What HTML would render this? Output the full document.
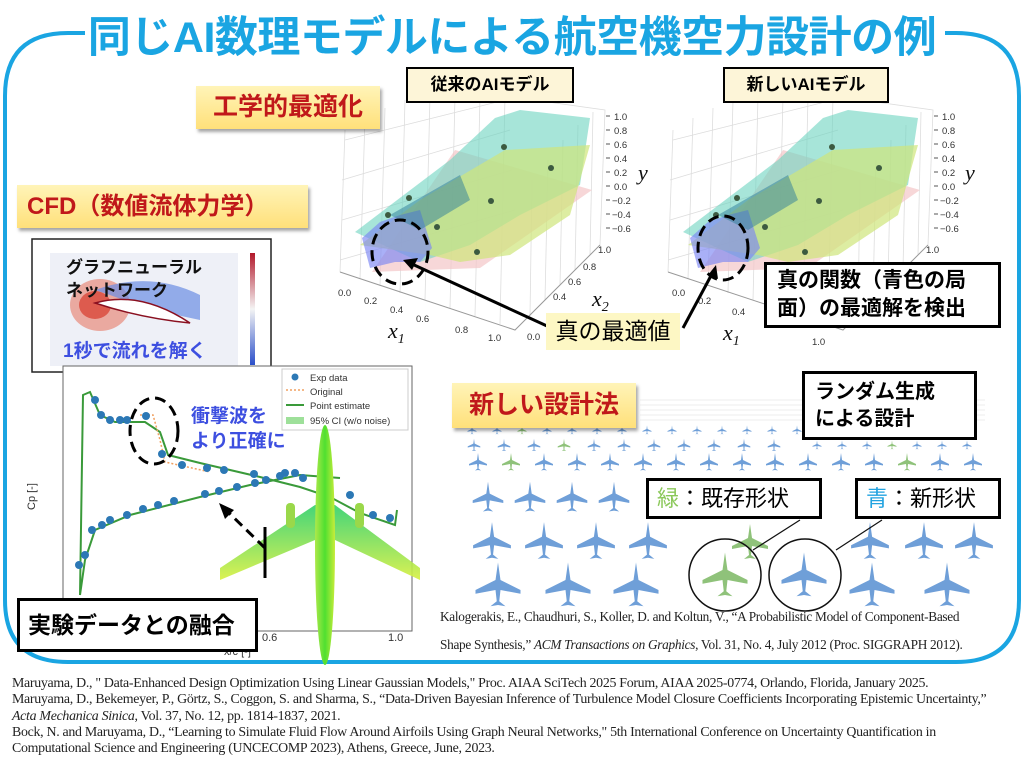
<!DOCTYPE html>
<html><head><meta charset="utf-8"><style>
body{margin:0;background:#fff;}
#c{position:relative;width:1024px;height:765px;overflow:hidden;font-family:"Liberation Sans","Noto Sans CJK JP",sans-serif;}
.a{position:absolute;}
.yb{background:linear-gradient(#fff4b8,#ffe07a);box-shadow:2px 3px 3px rgba(0,0,0,.35);color:#c0181a;font-weight:bold;white-space:nowrap;}
.bb{background:#fff;border:3px solid #000;color:#000;white-space:nowrap;font-weight:bold;}
.ref{font-family:"Liberation Serif",serif;font-size:13.9px;color:#222;line-height:16.3px;white-space:nowrap;letter-spacing:-0.3px;}
</style></head><body><div id="c">
<svg class="a" style="left:0;top:0" width="1024" height="765" viewBox="0 0 1024 765">
<defs>
<symbol id="pl" viewBox="-20 -20 40 40"><path d="M0,-18 L2,-4 L18,4 L18,7 L2,4 L1,13 L6,17 L0,16 L-6,17 L-1,13 L-2,4 L-18,7 L-18,4 L-2,-4 Z" fill="#6f9fd8"/></symbol>
<symbol id="pg" viewBox="-20 -20 40 40"><path d="M0,-18 L2,-4 L18,4 L18,7 L2,4 L1,13 L6,17 L0,16 L-6,17 L-1,13 L-2,4 L-18,7 L-18,4 L-2,-4 Z" fill="#8fc27a"/></symbol>
<linearGradient id="gr" x1="0" x2="1"><stop offset="0" stop-color="#aee84a"/><stop offset=".5" stop-color="#4fe030"/><stop offset="1" stop-color="#c9ec3a"/></linearGradient>
<linearGradient id="gw" x1="0" y1="0" x2="0" y2="1"><stop offset="0" stop-color="#2fd06a"/><stop offset="1" stop-color="#d8f040"/></linearGradient>
<linearGradient id="cb" x1="0" y1="0" x2="0" y2="1"><stop offset="0" stop-color="#b2182b"/><stop offset=".5" stop-color="#f4f4f4"/><stop offset="1" stop-color="#2a4ec9"/></linearGradient>
</defs>
<path d="M85,33 L68,33 Q5,33 5,96 L5,600 Q5,662 68,662 L956,662 Q1019,662 1019,600 L1019,96 Q1019,33 956,33 L945,33" fill="none" stroke="#1aa5e2" stroke-width="4"/>

<g id="p1">
 <g stroke="#ddd" stroke-width="0.8" fill="none">
  <path d="M340,272 L345,130 M360,279 L365,118 M380,286 L385,108 M400,293 L405,100 M425,300 L430,96 M450,308 L455,96 M475,316 L480,96 M500,324 L505,96"/>
  <path d="M515,330 L600,245 L605,110 L505,96 M345,140 L505,100 M342,180 L510,130 M342,220 L512,170 M340,260 L515,210"/>
  <path d="M530,316 L532,180 M545,300 L548,160 M560,285 L563,140 M575,270 L578,125 M590,255 L593,112"/>
 </g>
 <path d="M340,272 L515,330 L600,245" stroke="#999" fill="none"/>
 <path d="M372,272 L455,150 L592,190 L480,268 Z" fill="#f3c6c8" opacity=".7"/>
 <path d="M355,232 L450,160 L495,118 L520,110 L590,118 L580,185 L520,215 L470,245 L420,262 Z" fill="#6cd3c0" opacity=".6"/>
 <path d="M360,245 L420,200 L505,150 L590,145 L570,215 L510,255 L460,262 L430,255 Z" fill="#cfe67a" opacity=".7"/>
 <path d="M362,238 L380,222 L400,215 L420,210 L432,248 L420,262 L395,262 L370,268 Z" fill="#7b86f2" opacity=".65"/>
 <path d="M390,215 L460,175 L470,200 L420,230 Z" fill="#2d7d9a" opacity=".5"/>
 <g fill="#3c5a40"><circle cx="504" cy="147" r="3"/><circle cx="551" cy="168" r="3"/><circle cx="491" cy="201" r="3"/><circle cx="437" cy="227" r="3"/><circle cx="477" cy="252" r="3"/><circle cx="409" cy="198" r="3"/><circle cx="388" cy="215" r="3"/></g>
 <g stroke="#555" stroke-width="1"><path d="M606,116h4M606,130h4M606,144h4M606,158h4M606,172h4M606,186h4M606,200h4M606,214h4M606,228h4"/></g>
</g>
<use href="#p1" transform="translate(328,0)"/>
<g font-family="Liberation Sans,sans-serif" font-size="9.5" fill="#333">
 <text x="614" y="120">1.0</text><text x="614" y="134">0.8</text><text x="614" y="148">0.6</text><text x="614" y="162">0.4</text><text x="614" y="176">0.2</text><text x="614" y="190">0.0</text><text x="612" y="204">−0.2</text><text x="612" y="218">−0.4</text><text x="612" y="232">−0.6</text>
 <text x="338" y="296">0.0</text><text x="364" y="304">0.2</text><text x="390" y="313">0.4</text><text x="416" y="322">0.6</text><text x="455" y="333">0.8</text><text x="488" y="341">1.0</text>
 <text x="598" y="253">1.0</text><text x="583" y="270">0.8</text><text x="568" y="285">0.6</text><text x="553" y="300">0.4</text><text x="527" y="340">0.0</text>
 <text x="942" y="120">1.0</text><text x="942" y="134">0.8</text><text x="942" y="148">0.6</text><text x="942" y="162">0.4</text><text x="942" y="176">0.2</text><text x="942" y="190">0.0</text><text x="940" y="204">−0.2</text><text x="940" y="218">−0.4</text><text x="940" y="232">−0.6</text>
 <text x="672" y="296">0.0</text><text x="698" y="304">0.2</text><text x="732" y="315">0.4</text><text x="812" y="345">1.0</text><text x="926" y="253">1.0</text>
</g>
<g font-family="Liberation Serif,serif" font-style="italic" font-size="22" fill="#111">
 <text x="638" y="180">y</text><text x="965" y="180">y</text>
 <text x="388" y="338">x<tspan font-size="14" dy="5">1</tspan></text>
 <text x="723" y="340">x<tspan font-size="14" dy="5">1</tspan></text>
 <text x="592" y="306">x<tspan font-size="14" dy="5">2</tspan></text>
</g>
<ellipse cx="400" cy="252" rx="28" ry="32" fill="none" stroke="#000" stroke-width="3" stroke-dasharray="11,6"/>
<ellipse cx="723" cy="248" rx="25" ry="32" fill="none" stroke="#000" stroke-width="3" stroke-dasharray="11,6"/>
<line x1="547" y1="326" x2="412" y2="264" stroke="#000" stroke-width="3"/>
<path d="M403,260 L418,258 L412,270 Z" fill="#000"/>
<line x1="683" y1="328" x2="713" y2="272" stroke="#000" stroke-width="3"/>
<path d="M716,265 L718,279 L708,275 Z" fill="#000"/>

<rect x="32" y="239" width="239" height="133" fill="#fff" stroke="#222" stroke-width="1.5"/>
<rect x="50" y="253" width="188" height="113" fill="#eef0f7"/>
<ellipse cx="100" cy="305" rx="30" ry="26" fill="#e88a7a" opacity=".7"/>
<ellipse cx="95" cy="305" rx="16" ry="14" fill="#d9473a" opacity=".8"/>
<path d="M95,290 Q150,270 200,295 L200,320 Q150,310 110,295 Z" fill="#6b8de3" opacity=".7"/>
<path d="M95,303 Q140,290 190,323 Q140,318 95,303 Z" fill="#fff" stroke="#8a1020" stroke-width="1.5"/>
<rect x="250" y="253" width="5" height="112" fill="url(#cb)"/>

<rect x="63" y="366" width="349" height="265" fill="#fff" stroke="#666" stroke-width="1"/>
<rect x="282" y="369" width="126" height="61" fill="#fff" stroke="#ccc"/>
<circle cx="295" cy="377" r="3.5" fill="#2c78b5"/>
<path d="M286,390h18" stroke="#f0a060" stroke-dasharray="2,2" stroke-width="1.5"/>
<path d="M286,405h18" stroke="#3a9a3a" stroke-width="2"/>
<rect x="286" y="417" width="18" height="7" fill="#9ee09a"/>
<g font-size="9.5" fill="#333"><text x="310" y="381">Exp data</text><text x="310" y="395">Original</text><text x="310" y="409">Point estimate</text><text x="310" y="424">95% CI (w/o noise)</text></g>
<path d="M80,595 L83,395 L90,392 L100,415 L115,422 L145,422 L160,432 L168,455 L200,463 L260,477 L300,487 L330,497 L360,513 L395,525 L397,510 M80,595 L85,560 L95,530 L130,515 L200,497 L250,485 L300,475 L340,478" fill="none" stroke="#3a9a3a" stroke-width="2"/>
<path d="M140,415 L153,415 L160,440 L165,462 L210,472" fill="none" stroke="#f0a060" stroke-dasharray="2,2" stroke-width="1.5"/>
<g fill="#2c78b5"><circle cx="95" cy="400" r="4"/><circle cx="101" cy="415" r="4"/><circle cx="110" cy="420" r="4"/><circle cx="120" cy="420" r="4"/><circle cx="127" cy="420" r="4"/><circle cx="146" cy="416" r="4"/><circle cx="162" cy="454" r="4"/><circle cx="182" cy="465" r="4"/><circle cx="207" cy="468" r="4"/><circle cx="224" cy="470" r="4"/><circle cx="254" cy="474" r="4"/><circle cx="285" cy="473" r="4"/><circle cx="303" cy="478" r="4"/><circle cx="350" cy="495" r="4"/><circle cx="373" cy="515" r="4"/><circle cx="390" cy="518" r="4"/><circle cx="79" cy="565" r="4"/><circle cx="85" cy="555" r="4"/><circle cx="92" cy="530" r="4"/><circle cx="102" cy="525" r="4"/><circle cx="110" cy="520" r="4"/><circle cx="127" cy="515" r="4"/><circle cx="143" cy="509" r="4"/><circle cx="158" cy="505" r="4"/><circle cx="174" cy="501" r="4"/><circle cx="205" cy="494" r="4"/><circle cx="219" cy="491" r="4"/><circle cx="237" cy="487" r="4"/><circle cx="255" cy="483" r="4"/><circle cx="266" cy="480" r="4"/><circle cx="280" cy="476" r="4"/><circle cx="295" cy="473" r="4"/></g>
<g font-size="11" fill="#333"><text x="262" y="641">0.6</text><text x="388" y="641">1.0</text><text x="224" y="655">x/c [-]</text><text transform="translate(35,510) rotate(-90)">Cp [-]</text></g>
<ellipse cx="154" cy="431" rx="24" ry="33" fill="none" stroke="#000" stroke-width="3" stroke-dasharray="11,6"/>

<path d="M220,568 L315,505 L335,505 L420,568 L420,580 L335,540 L315,540 L220,580 Z" fill="url(#gw)" opacity=".9"/>
<rect x="286" y="503" width="9" height="25" rx="4" fill="#9ad84a"/><rect x="355" y="503" width="9" height="25" rx="4" fill="#9ad84a"/>
<ellipse cx="325" cy="545" rx="10" ry="120" fill="url(#gr)"/>
<path d="M265,548 L228,512" stroke="#000" stroke-width="3" stroke-dasharray="10,6"/>
<path d="M219,503 L234,510 L225,519 Z" fill="#000"/>
<path d="M265,527 L265,578" stroke="#000" stroke-width="3"/>

<g stroke="#dcdcdc" stroke-width=".6"><path d="M640,400h345M640,405h345M640,410h345M640,415h345M640,420h345"/></g>
<g>
<use href="#pl" x="465" y="425" width="14" height="10"/><use href="#pl" x="490" y="425" width="14" height="10"/><use href="#pg" x="515" y="425" width="14" height="10"/><use href="#pl" x="540" y="425" width="14" height="10"/><use href="#pl" x="565" y="425" width="14" height="10"/><use href="#pl" x="590" y="425" width="14" height="10"/><use href="#pl" x="615" y="425" width="14" height="10"/><use href="#pl" x="640" y="425" width="14" height="10"/><use href="#pl" x="665" y="425" width="14" height="10"/><use href="#pl" x="690" y="425" width="14" height="10"/><use href="#pl" x="715" y="425" width="14" height="10"/><use href="#pl" x="740" y="425" width="14" height="10"/><use href="#pl" x="765" y="425" width="14" height="10"/><use href="#pl" x="790" y="425" width="14" height="10"/>
<use href="#pl" x="810" y="440" width="14" height="10"/><use href="#pl" x="835" y="440" width="14" height="10"/><use href="#pl" x="860" y="440" width="14" height="10"/><use href="#pg" x="885" y="440" width="14" height="10"/><use href="#pl" x="910" y="440" width="14" height="10"/><use href="#pl" x="935" y="440" width="14" height="10"/><use href="#pl" x="960" y="440" width="14" height="10"/>
<use href="#pl" x="465" y="438" width="18" height="14"/><use href="#pl" x="495" y="438" width="18" height="14"/><use href="#pl" x="525" y="438" width="18" height="14"/><use href="#pg" x="555" y="438" width="18" height="14"/><use href="#pl" x="585" y="438" width="18" height="14"/><use href="#pl" x="615" y="438" width="18" height="14"/><use href="#pl" x="645" y="438" width="18" height="14"/><use href="#pl" x="675" y="438" width="18" height="14"/><use href="#pl" x="705" y="438" width="18" height="14"/><use href="#pl" x="735" y="438" width="18" height="14"/><use href="#pl" x="765" y="438" width="18" height="14"/>
<use href="#pl" x="465" y="452" width="26" height="20"/><use href="#pg" x="498" y="452" width="26" height="20"/><use href="#pl" x="531" y="452" width="26" height="20"/><use href="#pl" x="564" y="452" width="26" height="20"/><use href="#pl" x="597" y="452" width="26" height="20"/><use href="#pl" x="630" y="452" width="26" height="20"/><use href="#pl" x="663" y="452" width="26" height="20"/><use href="#pl" x="696" y="452" width="26" height="20"/><use href="#pl" x="729" y="452" width="26" height="20"/><use href="#pl" x="762" y="452" width="26" height="20"/><use href="#pl" x="795" y="452" width="26" height="20"/><use href="#pl" x="828" y="452" width="26" height="20"/><use href="#pl" x="861" y="452" width="26" height="20"/><use href="#pg" x="894" y="452" width="26" height="20"/><use href="#pl" x="927" y="452" width="26" height="20"/><use href="#pl" x="960" y="452" width="26" height="20"/>
<use href="#pl" x="468" y="480" width="40" height="34"/><use href="#pl" x="510" y="480" width="40" height="34"/><use href="#pl" x="552" y="480" width="40" height="34"/><use href="#pl" x="594" y="480" width="40" height="34"/><use href="#pl" x="920" y="480" width="40" height="34"/><use href="#pl" x="958" y="480" width="40" height="34"/>
<use href="#pl" x="468" y="520" width="48" height="42"/><use href="#pl" x="520" y="520" width="48" height="42"/><use href="#pl" x="572" y="520" width="48" height="42"/><use href="#pl" x="624" y="520" width="48" height="42"/><use href="#pg" x="725" y="522" width="50" height="40"/><use href="#pl" x="846" y="520" width="48" height="42"/><use href="#pl" x="900" y="520" width="48" height="42"/><use href="#pl" x="950" y="520" width="48" height="42"/>
<use href="#pl" x="468" y="560" width="60" height="50"/><use href="#pl" x="538" y="560" width="60" height="50"/><use href="#pl" x="606" y="560" width="60" height="50"/><use href="#pg" x="696" y="550" width="58" height="50"/><use href="#pl" x="775" y="550" width="58" height="50"/><use href="#pl" x="842" y="560" width="60" height="50"/><use href="#pl" x="915" y="560" width="64" height="50"/>
</g>
<circle cx="725" cy="575" r="36" fill="none" stroke="#111" stroke-width="1.5"/>
<circle cx="805" cy="575" r="36" fill="none" stroke="#111" stroke-width="1.5"/>
<path d="M753,550 L800,520 M836,550 L882,520" stroke="#111" stroke-width="1.2"/>
</svg>

<div class="a" style="left:60px;top:3px;width:904px;text-align:center;font-size:43px;font-weight:bold;color:#1aa5e2;letter-spacing:-0.5px;white-space:nowrap;">同じAI数理モデルによる航空機空力設計の例</div>

<div class="a yb" style="left:196px;top:86px;width:184px;height:43px;line-height:43px;text-align:center;font-size:25px;">工学的最適化</div>
<div class="a" style="left:406px;top:67px;width:164px;height:32px;line-height:32px;text-align:center;font-size:17px;font-weight:bold;background:#fdf5d8;border:2px solid #000;">従来のAIモデル</div>
<div class="a" style="left:723px;top:67px;width:162px;height:32px;line-height:32px;text-align:center;font-size:17px;font-weight:bold;background:#fdf5d8;border:2px solid #000;">新しいAIモデル</div>
<div class="a yb" style="left:17px;top:185px;width:291px;height:43px;line-height:43px;padding-left:10px;box-sizing:border-box;font-size:24px;">CFD（数値流体力学）</div>
<div class="a" style="left:546px;top:313px;width:134px;height:37px;line-height:37px;text-align:center;font-size:23px;background:#fdf7c4;">真の最適値</div>
<div class="a bb" style="left:764px;top:262px;width:237px;height:66px;font-size:21px;line-height:28px;padding:2px 0 0 10px;box-sizing:border-box;">真の関数（青色の局<br>面）の最適解を検出</div>

<div class="a" style="left:66px;top:256px;font-size:17px;font-weight:bold;line-height:23px;color:#111;">グラフニューラル<br>ネットワーク</div>
<div class="a" style="left:63px;top:336px;font-size:19px;font-weight:bold;color:#3d4fe0;">1秒で流れを解く</div>
<div class="a" style="left:191px;top:404px;font-size:19px;font-weight:bold;color:#3d4fe0;line-height:25px;">衝撃波を<br>より正確に</div>
<div class="a bb" style="left:17px;top:598px;width:241px;height:54px;line-height:48px;padding-left:8px;box-sizing:border-box;font-size:23px;">実験データとの融合</div>
<div class="a yb" style="left:452px;top:383px;width:184px;height:45px;line-height:45px;text-align:center;font-size:25px;">新しい設計法</div>
<div class="a bb" style="left:802px;top:371px;width:175px;height:69px;font-size:20px;line-height:27px;padding:5px 0 0 10px;box-sizing:border-box;">ランダム生成<br>による設計</div>
<div class="a bb" style="left:646px;top:478px;width:176px;height:41px;line-height:36px;padding-left:8px;box-sizing:border-box;font-size:22px;font-weight:normal;"><span style="color:#8bc85a">緑</span>：既存形状</div>
<div class="a bb" style="left:855px;top:478px;width:146px;height:41px;line-height:36px;padding-left:8px;box-sizing:border-box;font-size:22px;font-weight:normal;"><span style="color:#22a3e0">青</span>：新形状</div>

<div class="a ref" style="left:440px;top:609px;font-size:13.3px;">Kalogerakis, E., Chaudhuri, S., Koller, D. and Koltun, V., “A Probabilistic Model of Component-Based</div>
<div class="a ref" style="left:440px;top:637px;font-size:13.3px;">Shape Synthesis,” <i>ACM Transactions on Graphics</i>, Vol. 31, No. 4, July 2012 (Proc. SIGGRAPH 2012).</div>

<div class="a ref" style="left:12px;top:676px;">Maruyama, D., " Data-Enhanced Design Optimization Using Linear Gaussian Models," Proc. AIAA SciTech 2025 Forum, AIAA 2025-0774, Orlando, Florida, January 2025.<br>Maruyama, D., Bekemeyer, P., Görtz, S., Coggon, S. and Sharma, S., “Data-Driven Bayesian Inference of Turbulence Model Closure Coefficients Incorporating Epistemic Uncertainty,”<br><i>Acta Mechanica Sinica</i>, Vol. 37, No. 12, pp. 1814-1837, 2021.<br>Bock, N. and Maruyama, D., “Learning to Simulate Fluid Flow Around Airfoils Using Graph Neural Networks," 5th International Conference on Uncertainty Quantification in<br>Computational Science and Engineering (UNCECOMP 2023), Athens, Greece, June, 2023.</div>
</div></body></html>
